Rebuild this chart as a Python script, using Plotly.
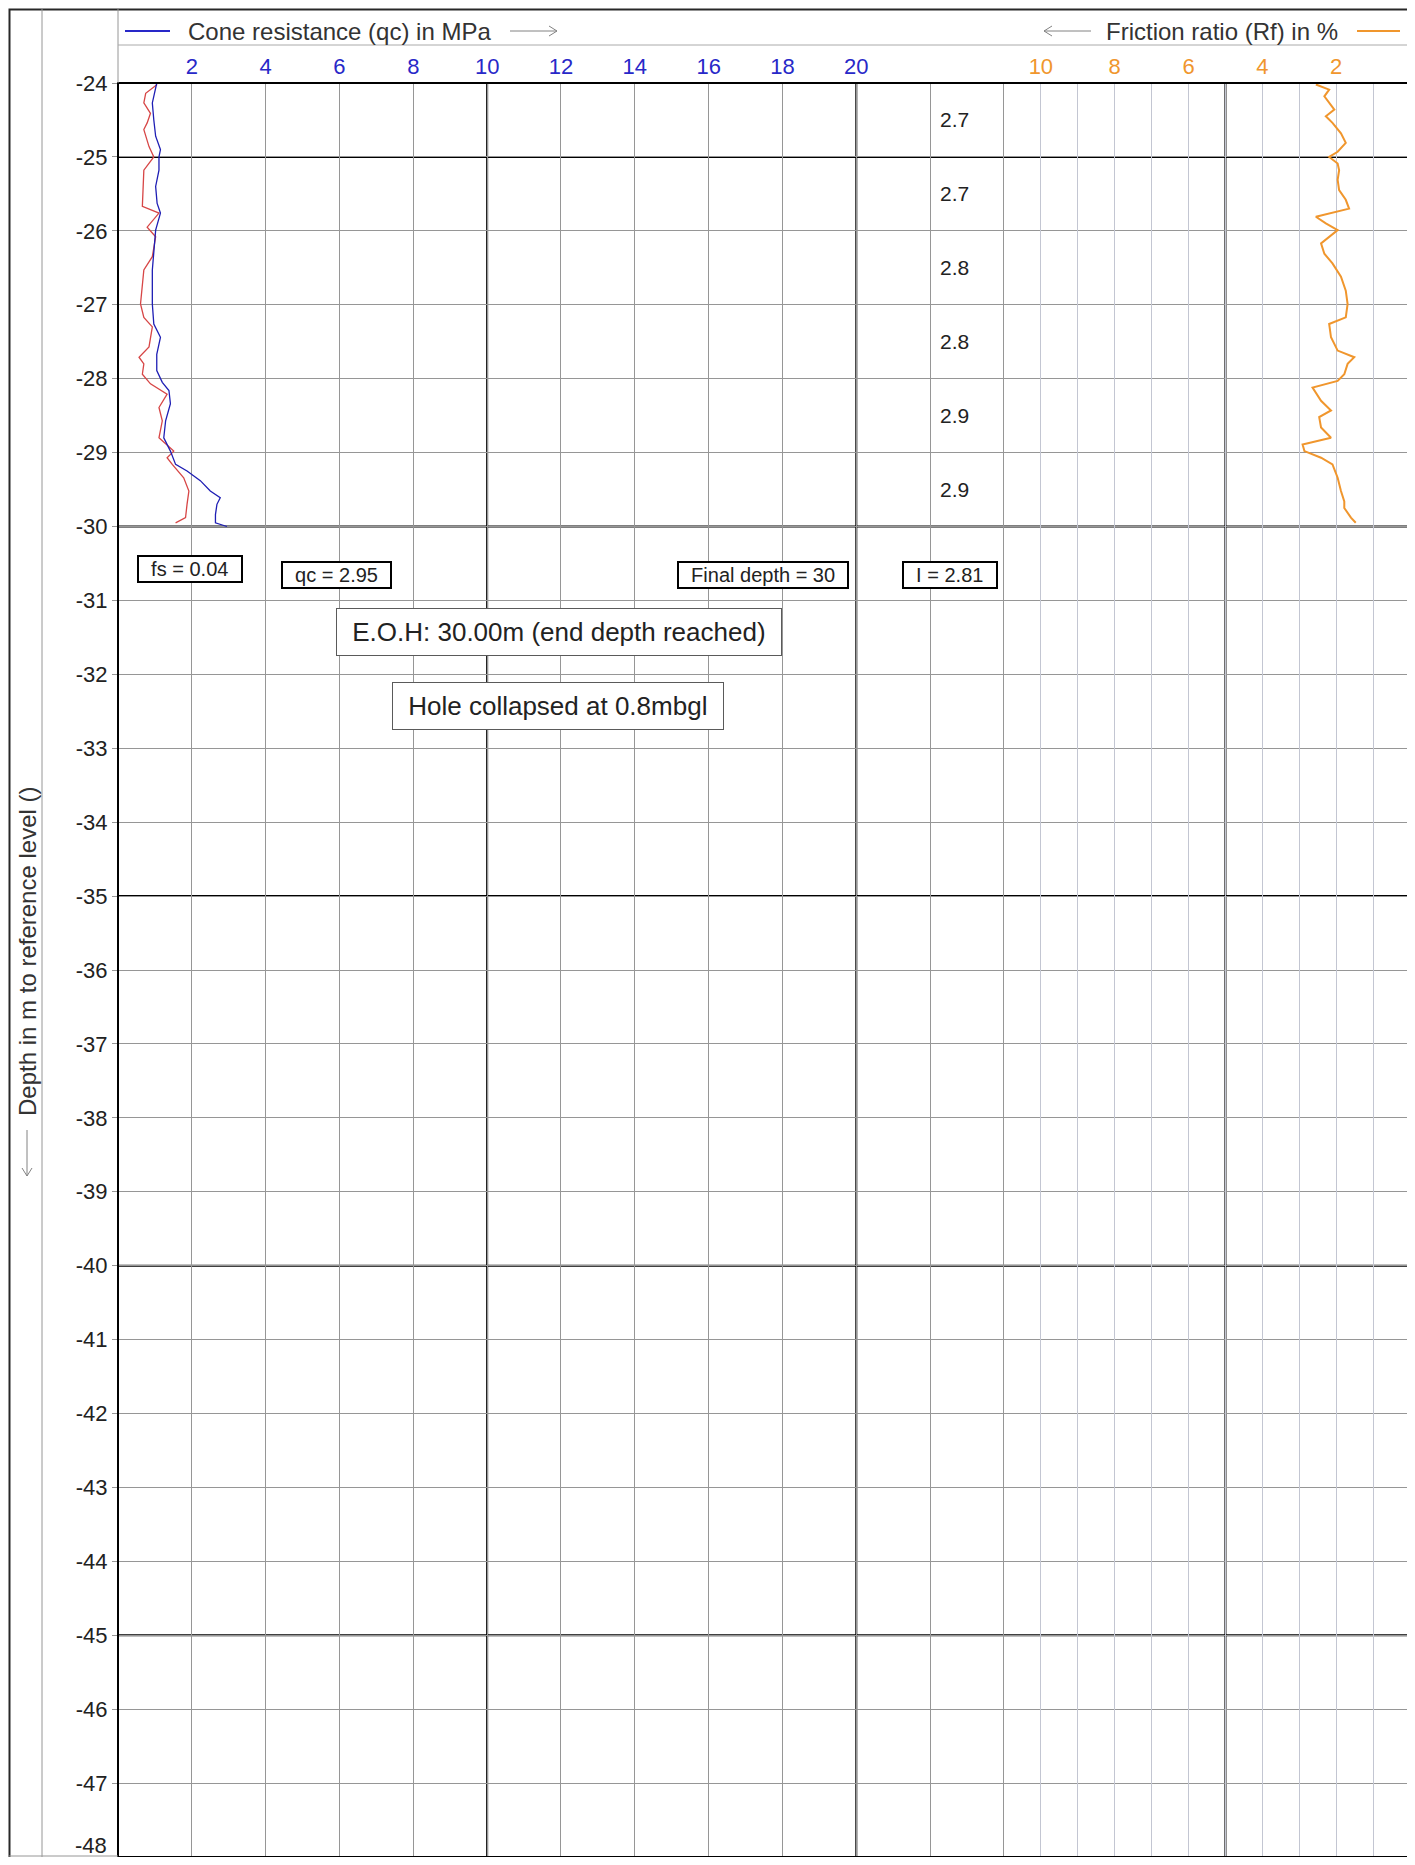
import plotly.graph_objects as go

# cone resistance qc (MPa) vs depth
qc_depth = [-24.00, -24.27, -24.50, -24.72, -24.90, -25.00, -25.18, -25.40, -25.63, -25.76,
            -25.99, -26.26, -26.53, -26.99, -27.26, -27.44, -27.67, -27.89, -28.05, -28.16,
            -28.34, -28.57, -28.80, -28.98, -29.16, -29.25, -29.38, -29.52, -29.61, -29.70,
            -29.84, -29.95, -30.00]
qc_values = [1.05, 0.93, 0.97, 1.02, 1.15, 1.11, 1.11, 1.02, 1.06, 1.15,
             1.02, 0.97, 0.93, 0.93, 0.97, 1.15, 1.05, 1.05, 1.20, 1.38,
             1.42, 1.29, 1.24, 1.42, 1.56, 1.87, 2.23, 2.50, 2.77, 2.68,
             2.64, 2.64, 2.95]

# second trace in the qc panel (red)
red_depth = [-24.02, -24.14, -24.27, -24.41, -24.54, -24.63, -24.86, -25.00, -25.18, -25.40,
             -25.67, -25.76, -25.95, -26.08, -26.35, -26.53, -26.76, -26.99, -27.17, -27.30,
             -27.57, -27.71, -27.80, -27.94, -28.07, -28.21, -28.39, -28.57, -28.80, -28.98,
             -29.07, -29.16, -29.34, -29.52, -29.70, -29.88, -29.95]
red_values = [1.06, 0.75, 0.70, 0.88, 0.79, 0.70, 0.84, 0.97, 0.70, 0.68,
              0.66, 1.11, 0.79, 1.02, 0.93, 0.70, 0.66, 0.61, 0.70, 0.93,
              0.84, 0.57, 0.70, 0.66, 0.88, 1.33, 1.11, 1.20, 1.11, 1.51,
              1.33, 1.47, 1.78, 1.92, 1.87, 1.83, 1.56]

# friction ratio Rf (%) vs depth
rf_depth = [-24.02, -24.09, -24.18, -24.27, -24.36, -24.45, -24.54, -24.68, -24.81, -24.93,
            -25.00, -25.09, -25.18, -25.31, -25.45, -25.58, -25.70, -25.81, -25.90, -25.99,
            -26.17, -26.31, -26.44, -26.62, -26.81, -26.99, -27.17, -27.26, -27.44, -27.62,
            -27.71, -27.80, -27.94, -28.03, -28.12, -28.30, -28.43, -28.52, -28.66, -28.80,
            -28.89, -28.98, -29.07, -29.16, -29.34, -29.52, -29.66, -29.75, -29.88, -29.95]
rf_values = [2.55, 2.19, 2.32, 2.19, 2.05, 2.28, 2.10, 1.87, 1.74, 1.96,
             2.19, 1.96, 1.92, 1.96, 1.92, 1.74, 1.65, 2.55, 2.28, 1.96,
             2.41, 2.32, 2.10, 1.87, 1.74, 1.69, 1.74, 2.19, 2.14, 1.96,
             1.51, 1.69, 1.78, 1.96, 2.64, 2.41, 2.14, 2.46, 2.41, 2.14,
             2.91, 2.86, 2.41, 2.10, 1.96, 1.87, 1.78, 1.78, 1.60, 1.47]

# layer labels (per metre)
ic_depths = [-24.5, -25.5, -26.5, -27.5, -28.5, -29.5]
ic_labels = ["2.7", "2.7", "2.8", "2.8", "2.9", "2.9"]

qc_ticks = [2, 4, 6, 8, 10, 12, 14, 16, 18, 20, 22, 24]
qc_ticktext = ["2", "4", "6", "8", "10", "12", "14", "16", "18", "20", "", ""]
rf_ticks = [1, 2, 3, 4, 5, 6, 7, 8, 9, 10]
rf_ticktext = ["", "2", "", "4", "", "6", "", "8", "", "10"]
depth_ticks = list(range(-48, -23))
depth_ticktext = [str(d) for d in depth_ticks]
qc_major = [10, 20]
rf_major = [5]
depth_major = [-25, -30, -35, -40, -45]

FONT = "Liberation Sans, Arial, sans-serif"
BLUE = "rgb(40,40,200)"
ORANGE = "rgb(240,150,45)"
GREY = "rgb(130,130,130)"

# the page body adds 8px, so the figure is placed at (8, 8) in the window
OFF = 8
W, H = 1415 - OFF, 1865 - 2 * OFF
# plot area in window pixels
PL, PR, PT, PB = 118, 1410, 83, 1857


def xp(px):
    return (px - PL) / (PR - PL)


def yp(py):
    return (PB - py) / (PB - PT)


def pline(x0, y0, x1, y1, color=GREY, width=1):
    return dict(type="line", xref="paper", yref="paper", x0=xp(x0), x1=xp(x1),
                y0=yp(y0), y1=yp(y1), line=dict(color=color, width=width))


fig = go.Figure()

fig.add_trace(go.Scatter(x=red_values, y=red_depth, mode="lines",
                         line=dict(color="rgb(215,70,70)", width=1.3), xaxis="x", yaxis="y"))
fig.add_trace(go.Scatter(x=qc_values, y=qc_depth, mode="lines",
                         line=dict(color="rgb(30,30,180)", width=1.3), xaxis="x", yaxis="y"))
fig.add_trace(go.Scatter(x=rf_values, y=rf_depth, mode="lines",
                         line=dict(color=ORANGE, width=2), xaxis="x2", yaxis="y"))

shapes = []
for v in qc_major:
    shapes.append(dict(type="line", xref="x", yref="paper", x0=v, x1=v, y0=0, y1=1,
                       line=dict(color="black", width=2), layer="between"))
for v in rf_major:
    shapes.append(dict(type="line", xref="x2", yref="paper", x0=v, x1=v, y0=0, y1=1,
                       line=dict(color="black", width=2), layer="between"))
for d in depth_major:
    shapes.append(dict(type="line", xref="paper", yref="y", x0=0, x1=1, y0=d, y1=d,
                       line=dict(color="black", width=2), layer="between"))

# frames and header lines
shapes += [
    dict(type="rect", xref="paper", yref="paper", x0=0, x1=1, y0=0, y1=1,
         line=dict(color="black", width=2)),
    dict(type="rect", xref="paper", yref="paper", x0=xp(9.5), x1=xp(1410), y0=yp(1880), y1=yp(9.5),
         line=dict(color="rgb(40,40,40)", width=2)),
    pline(42, 1880, 42, 9, "rgb(150,150,150)"),
    pline(PL, PT, PL, 9, "rgb(150,150,150)"),
    pline(PL, 45, PR, 45, "rgb(170,170,170)"),
    pline(9, 1856, PL, 1856, "rgb(150,150,150)"),
    # legend strokes
    pline(125, 31, 170, 31, BLUE, 2),
    pline(1357, 31, 1400, 31, ORANGE, 2),
    # long open arrows
    pline(510, 31, 557, 31), pline(549, 26, 557, 31), pline(549, 36, 557, 31),
    pline(1044, 31, 1091, 31), pline(1052, 26, 1044, 31), pline(1052, 36, 1044, 31),
    pline(27, 1130, 27, 1176), pline(22, 1168, 27, 1176), pline(32, 1168, 27, 1176),
]

annotations = [
    dict(text="Cone resistance (qc) in MPa", xref="paper", yref="paper", x=xp(186), y=yp(31),
         xanchor="left", yanchor="middle", showarrow=False, font=dict(size=24, color="#333")),
    dict(text="Friction ratio (Rf) in %", xref="paper", yref="paper", x=xp(1340), y=yp(31),
         xanchor="right", yanchor="middle", showarrow=False, font=dict(size=24, color="#333")),
    dict(text="Depth in m to reference level ()", xref="paper", yref="paper", x=xp(27), y=yp(952),
         xanchor="center", yanchor="middle", textangle=-90, showarrow=False,
         font=dict(size=24, color="#333")),
    # bottom depth label sits on the figure edge; keep it fully visible
    dict(text=depth_ticktext[0], xref="paper", yref="y", x=xp(109), y=depth_ticks[0],
         xanchor="right", yanchor="bottom", yshift=-3, showarrow=False,
         font=dict(size=22, color="#222")),
]

for d, t in zip(ic_depths, ic_labels):
    annotations.append(dict(text=t, xref="x", yref="y", x=22.2, y=d, xanchor="left", yanchor="middle",
                            showarrow=False, font=dict(size=21, color="#222")))

NB = "\u00a0"
small_boxes = [("fs = 0.04", 1.95, -30.58), ("qc = 2.95", 5.91, -30.66),
               ("Final depth = 30", 17.47, -30.66), ("I = 2.81", 22.54, -30.66)]
for t, x, y in small_boxes:
    annotations.append(dict(text=NB * 2 + t + NB * 2, xref="x", yref="y", x=x, y=y, showarrow=False,
                            font=dict(size=20, color="#222"), bordercolor="black", borderwidth=2,
                            borderpad=1, bgcolor="white"))

big_boxes = [("E.O.H: 30.00m (end depth reached)", 11.95, -31.43),
             ("Hole collapsed at 0.8mbgl", 11.92, -32.43)]
for t, x, y in big_boxes:
    annotations.append(dict(text=NB + t + NB, xref="x", yref="y", x=x, y=y, showarrow=False,
                            font=dict(size=26, color="#222"), bordercolor="rgb(90,90,90)", borderwidth=1,
                            borderpad=8, bgcolor="white"))

fig.update_layout(
    width=W, height=H,
    margin=dict(l=PL - OFF, r=W + OFF - PR, t=PT - OFF, b=H + OFF - PB),
    paper_bgcolor="white", plot_bgcolor="white",
    font=dict(family=FONT),
    showlegend=False,
    xaxis=dict(range=[0, 35], side="top", tickvals=qc_ticks, ticktext=qc_ticktext, automargin=False,
               showgrid=True, gridcolor="rgb(150,150,150)", gridwidth=1, zeroline=False,
               showline=False, ticks="", tickfont=dict(size=22, color=BLUE), ticklabelstandoff=4),
    xaxis2=dict(range=[35, 0], side="top", overlaying="x", tickvals=rf_ticks, ticktext=rf_ticktext,
                automargin=False,
                showgrid=True, gridcolor="rgb(195,198,210)", gridwidth=1, zeroline=False,
                showline=False, ticks="", tickfont=dict(size=22, color=ORANGE), ticklabelstandoff=4),
    yaxis=dict(range=[-48, -24], tickvals=depth_ticks, ticktext=[""] + depth_ticktext[1:],
               automargin=False,
               showgrid=True, gridcolor="rgb(150,150,150)", gridwidth=1, zeroline=False,
               showline=False, ticks="outside", ticklen=5, tickcolor="rgb(150,150,150)",
               tickfont=dict(size=22, color="#222")),
    shapes=shapes,
    annotations=annotations,
)

fig.write_html("out.html")
